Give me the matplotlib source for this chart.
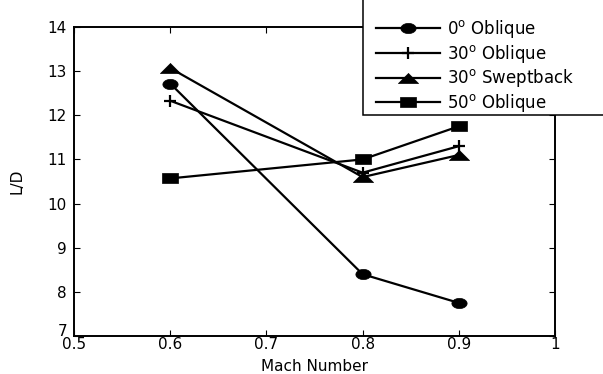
import matplotlib
matplotlib.use('Agg')
import matplotlib.pyplot as plt
from matplotlib.path import Path
from matplotlib.patches import Rectangle
import numpy as np

plt.rcParams['font.family'] = ['DejaVu Sans']
plt.rcParams['mathtext.fontset'] = 'dejavusans'

mach = [0.6, 0.8, 0.9]
oblique_0 = [12.72, 8.40, 7.75]
oblique_30 = [12.33, 10.70, 11.30]
swept_30 = [13.07, 10.60, 11.10]
oblique_50 = [10.57, 11.00, 11.75]

labels = [r'0$^{\rm o}$ Oblique', r'30$^{\rm o}$ Oblique',
          r'30$^{\rm o}$ Sweptback', r'50$^{\rm o}$ Oblique']
series = [oblique_0, oblique_30, swept_30, oblique_50]

# markers in the original look stretched sideways
t = np.linspace(0, 2 * np.pi, 40)
ellipse = Path(np.column_stack([1.5 * np.cos(t), np.sin(t)]), closed=True)
tri = Path([(-1.0, -0.5), (1.0, -0.5), (0, 0.5), (-1.0, -0.5)], closed=True)
box = Path([(-0.85, -0.5), (0.85, -0.5), (0.85, 0.5), (-0.85, 0.5), (-0.85, -0.5)], closed=True)
markers = [ellipse, '+', tri, box]
sizes = [11, 9, 14.5, 12]

fig = plt.figure(figsize=(6.03, 3.74), dpi=100)
ax = fig.add_axes([0.1227, 0.1016, 0.7977, 0.8262])

for vals, lab, m, s in zip(series, labels, markers, sizes):
    ax.plot(mach, vals, color='black', lw=1.6, marker=m, ms=s,
            mew=1.6 if m == '+' else 0.5, label=lab)

ax.set_xlim(0.5, 1.0)
ax.set_ylim(7, 14)
ax.set_xticks([0.5, 0.6, 0.7, 0.8, 0.9, 1.0])
ax.set_xticklabels(['0.5', '0.6', '0.7', '0.8', '0.9', '1'])
ax.set_yticks(range(7, 15))
ax.tick_params(direction='in', top=True, right=True, labelsize=11, length=4)
ax.tick_params(axis='x', pad=1)
ax.tick_params(axis='y', pad=5)
ax.get_yticklabels()[0].set_verticalalignment('baseline')
for sp in ax.spines.values():
    sp.set_linewidth(1.4)
ax.set_xlabel('Mach Number', fontsize=11, labelpad=5)
ax.set_ylabel('L/D', fontsize=11, labelpad=17)

# legend box runs off the top and right of the picture
fig.patches.append(Rectangle((363 / 603, 1 - 115 / 374), 300 / 603, 140 / 374,
                             transform=fig.transFigure, facecolor='white',
                             edgecolor='black', lw=1.1, zorder=4))
handles, _ = ax.get_legend_handles_labels()
leg = fig.legend(handles, labels, loc='upper left',
                 bbox_to_anchor=(363 / 603, 1 - 5 / 374), borderaxespad=0,
                 fontsize=12, handlelength=3.85, frameon=False,
                 borderpad=0.78, labelspacing=0.16, handletextpad=0.42)
leg.set_zorder(5)

fig.savefig('out.png', dpi=100)
